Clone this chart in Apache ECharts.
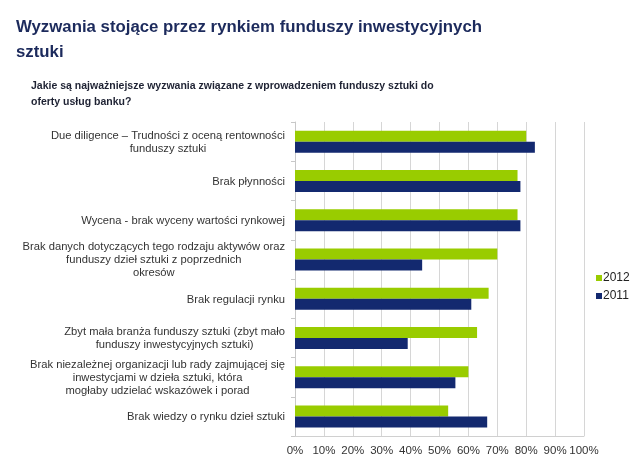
<!DOCTYPE html>
<html>
<head>
<meta charset="utf-8">
<script src="https://cdn.jsdelivr.net/npm/echarts@6/dist/echarts.min.js"></script>
<style>
html, body { margin: 0; padding: 0; background: #fff; }
#main { width: 640px; height: 471px; }
</style>
</head>
<body>
<div id="main"></div>
<script>
var categories = [
  'Due diligence – Trudności z oceną rentowności\nfunduszy sztuki',
  'Brak płynności',
  'Wycena - brak wyceny wartości rynkowej',
  'Brak danych dotyczących tego rodzaju aktywów oraz\nfunduszy dzieł sztuki z poprzednich\nokresów',
  'Brak regulacji rynku',
  'Zbyt mała branża funduszy sztuki (zbyt mało\nfunduszy inwestycyjnych sztuki)',
  'Brak niezależnej organizacji lub rady zajmującej się\ninwestycjami w dzieła sztuki, która\nmogłaby udzielać wskazówek i porad',
  'Brak wiedzy o rynku dzieł sztuki'
];
var values2012 = [80, 77, 77, 70, 67, 63, 60, 53];
var values2011 = [83, 78, 78, 44, 61, 39, 55.5, 66.5];

var myChart = echarts.init(document.getElementById('main'));

var option = {
  backgroundColor: '#fff',
  animation: false,
  title: [
    {
      text: 'Wyzwania stojące przez rynkiem funduszy inwestycyjnych\nsztuki',
      left: 11, top: 10,
      textStyle: { fontFamily: 'Liberation Sans', fontSize: 16.8, fontWeight: 'bold', color: '#1c2a5c', lineHeight: 25 }
    },
    {
      text: 'Jakie są najważniejsze wyzwania związane z wprowadzeniem funduszy sztuki do\noferty usług banku?',
      left: 26, top: 73,
      textStyle: { fontFamily: 'Liberation Sans', fontSize: 10.5, fontWeight: 'bold', color: '#1e2233', lineHeight: 16 }
    }
  ],
  legend: {
    orient: 'vertical',
    left: 591, top: 267,
    icon: 'rect', itemWidth: 6, itemHeight: 6, itemGap: 6,
    textStyle: { fontFamily: 'Liberation Sans', fontSize: 12, color: '#222', padding: [0, 0, 0, -4] },
    data: ['2012', '2011']
  },
  grid: { left: 295, right: 56, top: 122, bottom: 35 },
  xAxis: {
    type: 'value', min: 0, max: 100, interval: 10,
    axisLine: { show: true, lineStyle: { color: '#d0d0d0' } },
    axisTick: { show: false },
    splitLine: { lineStyle: { color: '#d6d6d6' } },
    axisLabel: { formatter: '{value}%', fontFamily: 'Liberation Sans', fontSize: 11.5, color: '#333', margin: 9 }
  },
  yAxis: {
    type: 'category', inverse: true, data: categories,
    axisLine: { lineStyle: { color: '#c8c8c8' } },
    axisTick: { show: true, length: 4, lineStyle: { color: '#c8c8c8' } },
    axisLabel: {
      margin: 10, align: 'right', padding: [2, 0, 0, 0],
      fontFamily: 'Liberation Sans', fontSize: 11.2, color: '#333', lineHeight: 13,
      formatter: function (v) {
        return v.split('\n').map(function (l) { return '{c|' + l + '}'; }).join('\n');
      },
      rich: { c: { align: 'center', fontFamily: 'Liberation Sans', fontSize: 11.2, color: '#333', lineHeight: 13 } }
    }
  },
  series: [
    { name: '2012', type: 'bar', data: values2012, barWidth: 11, barGap: '0%', itemStyle: { color: '#99cc00' } },
    { name: '2011', type: 'bar', data: values2011, barWidth: 11, barGap: '0%', itemStyle: { color: '#13296f' } }
  ]
};

myChart.setOption(option);
</script>
</body>
</html>
